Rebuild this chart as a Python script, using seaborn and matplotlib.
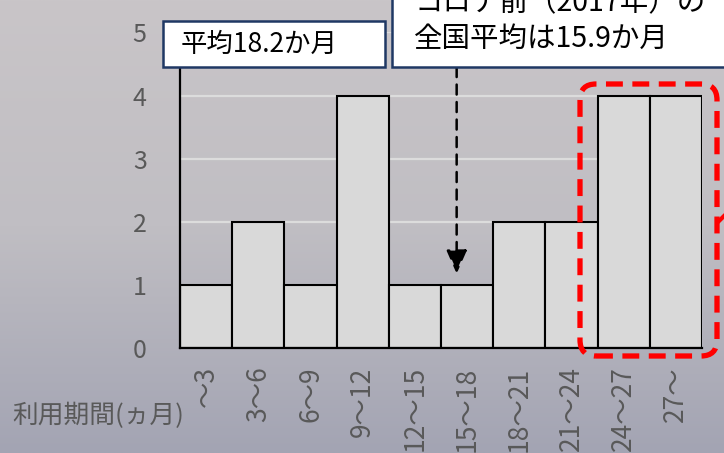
import numpy as np
import pandas as pd
import matplotlib
matplotlib.use("Agg")
import matplotlib.pyplot as plt
import seaborn as sns
from matplotlib.patches import FancyBboxPatch, Rectangle
from matplotlib.transforms import IdentityTransform
from matplotlib.lines import Line2D

# ---- data ----
categories = ["～3", "3～6", "6～9", "9～12", "12～15", "15～18",
              "18～21", "21～24", "24～27", "27～"]
counts = [1, 2, 1, 4, 1, 1, 2, 2, 4, 4]
y_ticks = [0, 1, 2, 3, 4, 5]
avg_label = "平均18.2か月"
national_avg = 15.9
bin_width_months = 3
national_lines = ["コロナ前（2017年）の", "全国平均は15.9か月"]
x_axis_label = "利用期間(ヵ月)"

W, H = 724, 453
sns.set_theme(style="white")
plt.rcParams['font.family'] = ['Noto Sans CJK JP', 'DejaVu Sans']

fig = plt.figure(figsize=(W / 100, H / 100), dpi=100)

# background gradient
bg = fig.add_axes([0, 0, 1, 1], zorder=-10)
top = np.array([201, 197, 200]) / 255
mid = np.array([192, 190, 195]) / 255
bot = np.array([163, 164, 179]) / 255
t = np.linspace(0, 1, 200)[:, None]
grad = np.where(t < 0.5, top + (mid - top) * (t / 0.5), mid + (bot - mid) * ((t - 0.5) / 0.5))
img = np.repeat(grad[:, None, :], 2, axis=1)
bg.imshow(img, aspect='auto', extent=[0, 1, 0, 1], origin='upper')
bg.axis('off')

def fx(px):
    return px / W

def fy(py):
    return 1 - py / H

ax_l, ax_r = 180, 702
ax_b, ax_t = 348.3, 32.3
ax = fig.add_axes([fx(ax_l), fy(ax_b), (ax_r - ax_l) / W, (ax_b - ax_t) / H])
ax.set_facecolor('none')

df = pd.DataFrame({"period": categories, "count": counts})
sns.barplot(data=df, x="period", y="count", ax=ax, color="#d9d9d9",
            saturation=1, width=1.0, edgecolor="black", linewidth=1.5, zorder=3)

ax.set_xlim(-0.5, len(categories) - 0.5)
ax.set_ylim(0, 5)
ax.set_yticks(y_ticks)
ax.set_yticklabels([str(v) for v in y_ticks], fontsize=18, color="#595959")
ax.set_xticks(range(len(categories)))
ax.set_xticklabels(categories, rotation=90, fontsize=19, color="#595959",
                   va="top", ha="center")
ax.tick_params(axis='y', length=0, pad=24)
ax.tick_params(axis='x', length=0, pad=13)
ax.set_xlabel("")
ax.set_ylabel("")
ax.yaxis.grid(True, color="#dcdcdc", linewidth=1.6)
ax.set_axisbelow(True)
for s in ["top", "right"]:
    ax.spines[s].set_visible(False)
for s in ["left", "bottom"]:
    ax.spines[s].set_color("black")
    ax.spines[s].set_linewidth(1.6)
    ax.spines[s].set_zorder(4)

# x axis label
fig.text(fx(12), fy(416), x_axis_label, fontsize=18.5, color="#595959",
         ha="left", va="center")

ident = IdentityTransform()

def pix_rect(x0, y0, x1, y1, **kw):
    return Rectangle((x0, H - y1), x1 - x0, y1 - y0, transform=ident, **kw)

# box 1: average
fig.patches.append(pix_rect(162.5, 20.7, 385, 67.3, facecolor="white",
                            edgecolor="#1f3864", linewidth=1.8, zorder=20))
fig.text(fx(181), fy(44), avg_label, fontsize=19, color="black",
         ha="left", va="center", zorder=21)

# box 2: national average (extends past top/right edges)
fig.patches.append(pix_rect(391.5, -20, 740, 67.3, facecolor="white",
                            edgecolor="#1f3864", linewidth=1.8, zorder=20))
fig.text(fx(414), fy(3), national_lines[0], fontsize=20.5, color="black",
         ha="left", va="center", zorder=21)
fig.text(fx(414), fy(39), national_lines[1], fontsize=20.5, color="black",
         ha="left", va="center", zorder=21)

# dashed arrow to national average position
x_nat = national_avg / bin_width_months - 0.5
ax.annotate("", xy=(x_nat, 1.18), xytext=(x_nat, 4.45),
            xycoords="data", textcoords="data",
            arrowprops=dict(arrowstyle="-|>,head_length=0.8,head_width=0.35",
                            mutation_scale=18,
                            color="black", lw=1.8, linestyle=(0, (4, 3)),
                            shrinkA=0, shrinkB=0),
            annotation_clip=False, zorder=6)

# red dashed rounded highlight
rx0, ry0, rx1, ry1 = 580, 84, 717, 356
red = FancyBboxPatch((rx0, H - ry1), rx1 - rx0, ry1 - ry0,
                     boxstyle="round,pad=0,rounding_size=16",
                     transform=ident, facecolor="none", edgecolor="#ff0000",
                     linewidth=3.8, linestyle=(0, (3.2, 1.8)), zorder=15)
fig.patches.append(red)
fig.lines.append(Line2D([718, 726], [H - 222, H - 214], transform=ident,
                        color="#ff0000", linewidth=3.0, zorder=15))

fig.savefig("out.png", dpi=100)
